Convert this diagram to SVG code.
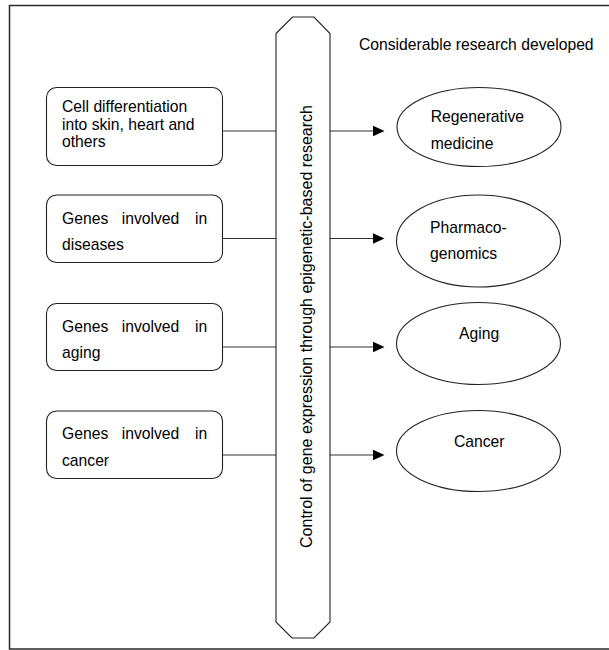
<svg xmlns="http://www.w3.org/2000/svg" width="609" height="650" viewBox="0 0 609 650">
<defs>
<style>
.frame{fill:#fff;stroke:#2a2a2a;stroke-width:1.5}
.box{fill:#fff;stroke:#222;stroke-width:1.1}
.ln{stroke:#333;stroke-width:1.1;fill:none}
.ah{fill:#000}
.t{font-family:"Liberation Sans",Arial,sans-serif;font-size:15.7px;fill:#000}
.vt{font-family:"Liberation Sans",Arial,sans-serif;font-size:16px;fill:#000}
</style>
</defs>
<rect class="frame" x="9.5" y="5.5" width="610" height="643.5"/>
<text class="t" x="359" y="50">Considerable research developed</text>
<g id="connectors">
<line class="ln" x1="222.5" y1="131" x2="276" y2="131"/>
<line class="ln" x1="222.5" y1="238.5" x2="276" y2="238.5"/>
<line class="ln" x1="222.5" y1="347" x2="276" y2="347"/>
<line class="ln" x1="222.5" y1="455" x2="276" y2="455"/>
<line class="ln" x1="330" y1="131" x2="374" y2="131"/>
<polygon class="ah" points="373,125.8 384.5,131 373,136.2"/>
<line class="ln" x1="330" y1="238.5" x2="374" y2="238.5"/>
<polygon class="ah" points="373,233.3 384.5,238.5 373,243.7"/>
<line class="ln" x1="330" y1="347" x2="374" y2="347"/>
<polygon class="ah" points="373,341.8 384.5,347 373,352.2"/>
<line class="ln" x1="330" y1="455" x2="374" y2="455"/>
<polygon class="ah" points="373,449.8 384.5,455 373,460.2"/>
</g>
<g id="pillar">
<polygon class="box" points="276,33.5 292.5,17 314,17 330,33.5 330,622 314,638 292,638 276,622"/>
<text class="vt" transform="translate(311.5,326.5) rotate(-90)" text-anchor="middle">Control of gene expression through epigenetic-based research</text>
</g>
<g id="box1">
<rect class="box" x="46.5" y="87.5" width="176" height="78" rx="10"/>
<text class="t"><tspan x="62" y="112">Cell differentiation</tspan><tspan x="62" y="129.5">into skin, heart and</tspan><tspan x="62" y="147">others</tspan></text>
</g>
<g id="box2">
<rect class="box" x="46.5" y="195" width="176" height="67.5" rx="10"/>
<text class="t" y="223.5"><tspan x="62">Genes</tspan><tspan x="121.7">involved</tspan><tspan x="195">in</tspan></text>
<text class="t" x="62" y="250">diseases</text>
</g>
<g id="box3">
<rect class="box" x="46.5" y="303.5" width="176" height="67" rx="10"/>
<text class="t" y="331.7"><tspan x="62">Genes</tspan><tspan x="121.7">involved</tspan><tspan x="195">in</tspan></text>
<text class="t" x="62" y="358.3">aging</text>
</g>
<g id="box4">
<rect class="box" x="46.5" y="411" width="176" height="67.5" rx="10"/>
<text class="t" y="439.3"><tspan x="62">Genes</tspan><tspan x="121.7">involved</tspan><tspan x="195">in</tspan></text>
<text class="t" x="62" y="466">cancer</text>
</g>
<g id="regenerative">
<ellipse class="box" cx="479" cy="127" rx="82" ry="39.5"/>
<text class="t"><tspan x="430.7" y="122">Regenerative</tspan><tspan x="430.7" y="149">medicine</tspan></text>
</g>
<g id="pharmaco">
<ellipse class="box" cx="478.5" cy="241" rx="82" ry="46"/>
<text class="t"><tspan x="430" y="232.5">Pharmaco-</tspan><tspan x="430" y="258.5">genomics</tspan></text>
</g>
<g id="aging">
<ellipse class="box" cx="478.5" cy="343.5" rx="82" ry="41"/>
<text class="t" x="459" y="339">Aging</text>
</g>
<g id="cancer">
<ellipse class="box" cx="478.5" cy="451" rx="82" ry="40.5"/>
<text class="t" x="454" y="446.7">Cancer</text>
</g>
</svg>
